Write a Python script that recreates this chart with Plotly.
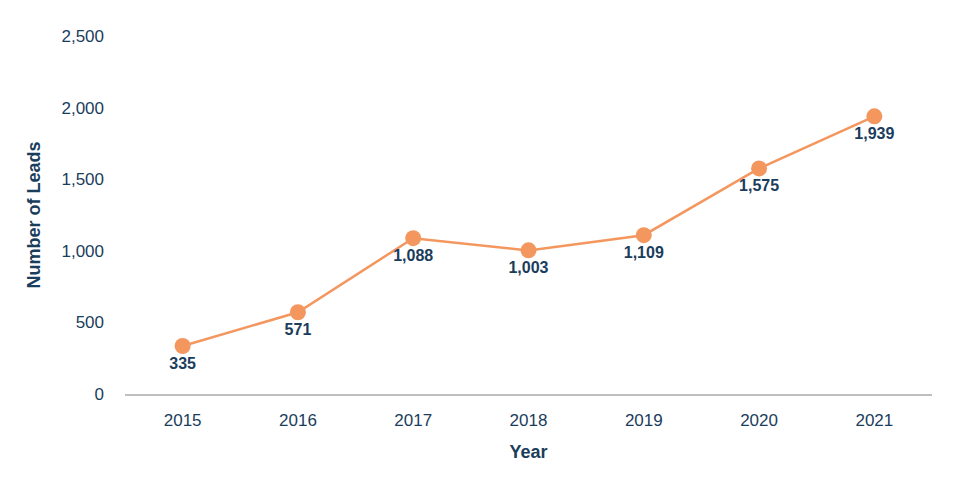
import plotly.graph_objects as go

years = ["2015", "2016", "2017", "2018", "2019", "2020", "2021"]
leads = [335, 571, 1088, 1003, 1109, 1575, 1939]
labels = ["335", "571", "1,088", "1,003", "1,109", "1,575", "1,939"]

navy = "#1b3d5c"
orange = "#f4975f"

fig = go.Figure(go.Scatter(
    x=years, y=leads, mode="lines+markers+text",
    line=dict(color=orange, width=2.5),
    marker=dict(color=orange, size=16),
    text=labels, textposition="bottom center",
    textfont=dict(family="Liberation Sans, Arial", size=16, color=navy, weight="bold"),
    cliponaxis=False,
))
fig.update_layout(
    width=960, height=481, plot_bgcolor="white", paper_bgcolor="white",
    margin=dict(l=117, r=36, t=28, b=95),
    font=dict(family="Liberation Sans, Arial", size=17, color=navy),
    showlegend=False,
    xaxis=dict(type="category", range=[-0.5, 6.5], showgrid=False, showline=True,
               linecolor="#bfbfbf", linewidth=1.5, ticks="", ticklabelstandoff=10,
               title=dict(text="<b>Year</b>", font=dict(size=18, color=navy), standoff=16)),
    yaxis=dict(range=[0, 2500], dtick=500, tickformat=",", showgrid=False, zeroline=False,
               showline=False, ticklabelstandoff=20,
               title=dict(text="<b>Number of Leads</b>", font=dict(size=18, color=navy), standoff=16)),
)
fig.write_html("out.html")
